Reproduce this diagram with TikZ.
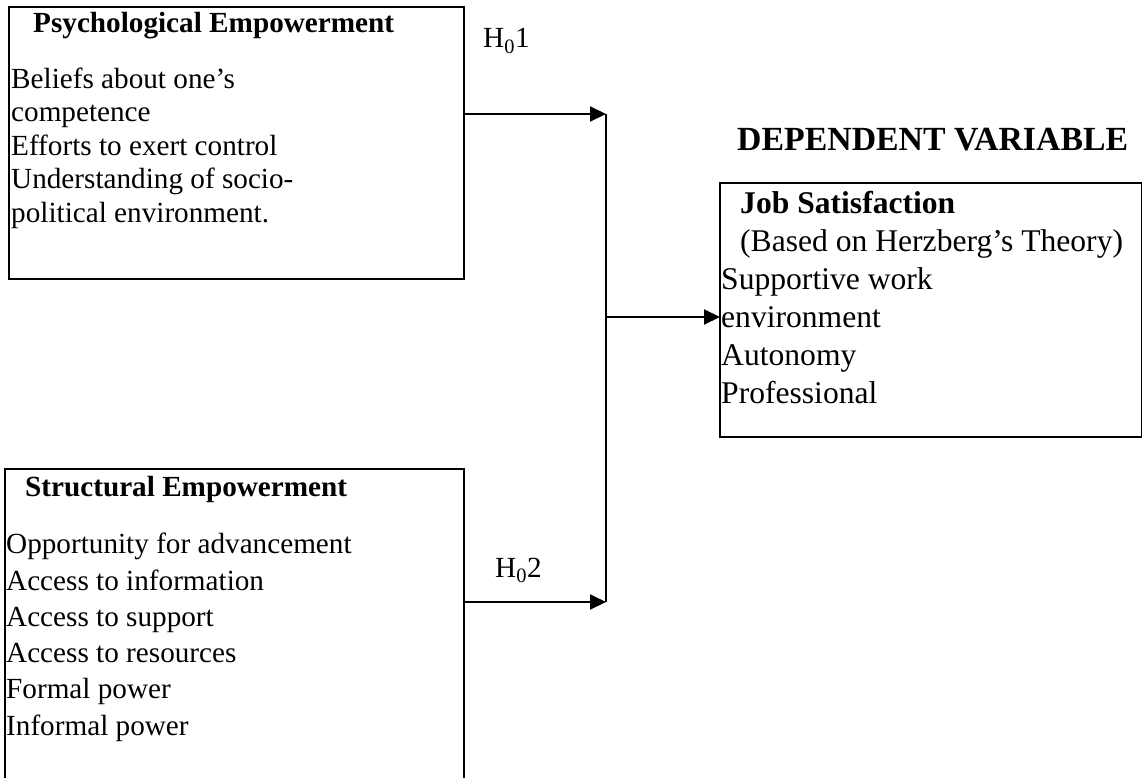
\documentclass[tikz,border=0pt]{standalone}
\usepackage{fontspec}
\setmainfont{Liberation Serif}
\usetikzlibrary{arrows.meta}
\begin{document}
\begin{tikzpicture}[x=1pt,y=-1pt,
  box/.style={draw, line width=1.6pt, inner sep=0pt, outer sep=0pt, anchor=north west},
  txt/.style={anchor=base west, inner sep=0pt, font=\fontsize{29.2}{33}\selectfont},
  hd/.style={txt, font=\fontsize{29.2}{33}\selectfont\bfseries},
  jtxt/.style={txt, font=\fontsize{31.6}{36}\selectfont},
  jhd/.style={txt, font=\fontsize{31.6}{36}\selectfont\bfseries},
  conn/.style={line width=2pt, -{Triangle[length=16pt,width=15pt]}},
  vline/.style={line width=1.3pt}]
\useasboundingbox (0,0) rectangle (1142,778);
\begin{scope}
\clip (0,0) rectangle (1142,778);
% boxes
\node[box, minimum width=455pt, minimum height=272pt] (pe) at (9,7) {};
\node[box, minimum width=459pt, minimum height=330pt] (se) at (5,469) {};
\node[box, minimum width=422pt, minimum height=254pt] (js) at (720,183) {};
\end{scope}
% psychological empowerment text
\node[hd] (peh) at (33,33) {Psychological Empowerment};
\node[txt] (pe1) at (11,89) {Beliefs about one’s};
\node[txt] (pe2) at (11,122) {competence};
\node[txt] (pe3) at (11,156) {Efforts to exert control};
\node[txt] (pe4) at (11,189) {Understanding of socio-};
\node[txt] (pe5) at (11,222) {political environment.};
% structural empowerment text
\node[hd] (seh) at (25,496) {Structural Empowerment};
\node[txt] (se1) at (6,553) {Opportunity for advancement};
\node[txt] (se2) at (6,590) {Access to information};
\node[txt] (se3) at (6,626) {Access to support};
\node[txt] (se4) at (6,662) {Access to resources};
\node[txt] (se5) at (6,698) {Formal power};
\node[txt] (se6) at (6,735) {Informal power};
% job satisfaction text
\node[jhd, font=\fontsize{33.8}{38}\selectfont\bfseries] (dv) at (737,151) {DEPENDENT VARIABLE};
\node[jhd] (jsh) at (740,213) {Job Satisfaction};
\node[jtxt] (js1) at (740,251) {(Based on Herzberg’s Theory)};
\node[jtxt] (js2) at (721,289) {Supportive work};
\node[jtxt] (js3) at (721,327) {environment};
\node[jtxt] (js4) at (721,365) {Autonomy};
\node[jtxt] (js5) at (721,403) {Professional};
% hypothesis labels
\node[txt] (h1) at (483,48) {H\textsubscript{0}1};
\node[txt] (h2) at (495,577) {H\textsubscript{0}2};
% connectors
\coordinate (a1) at (606,114);
\coordinate (a2) at (606,602);
\coordinate (m) at (606,317);
\draw[conn] (pe.east |- a1) -- (a1);
\draw[conn] (se.east |- a2) -- (a2);
\draw[vline] (a1) -- (a2);
\draw[conn] (m) -- (js.west |- m);
\end{tikzpicture}
\end{document}
